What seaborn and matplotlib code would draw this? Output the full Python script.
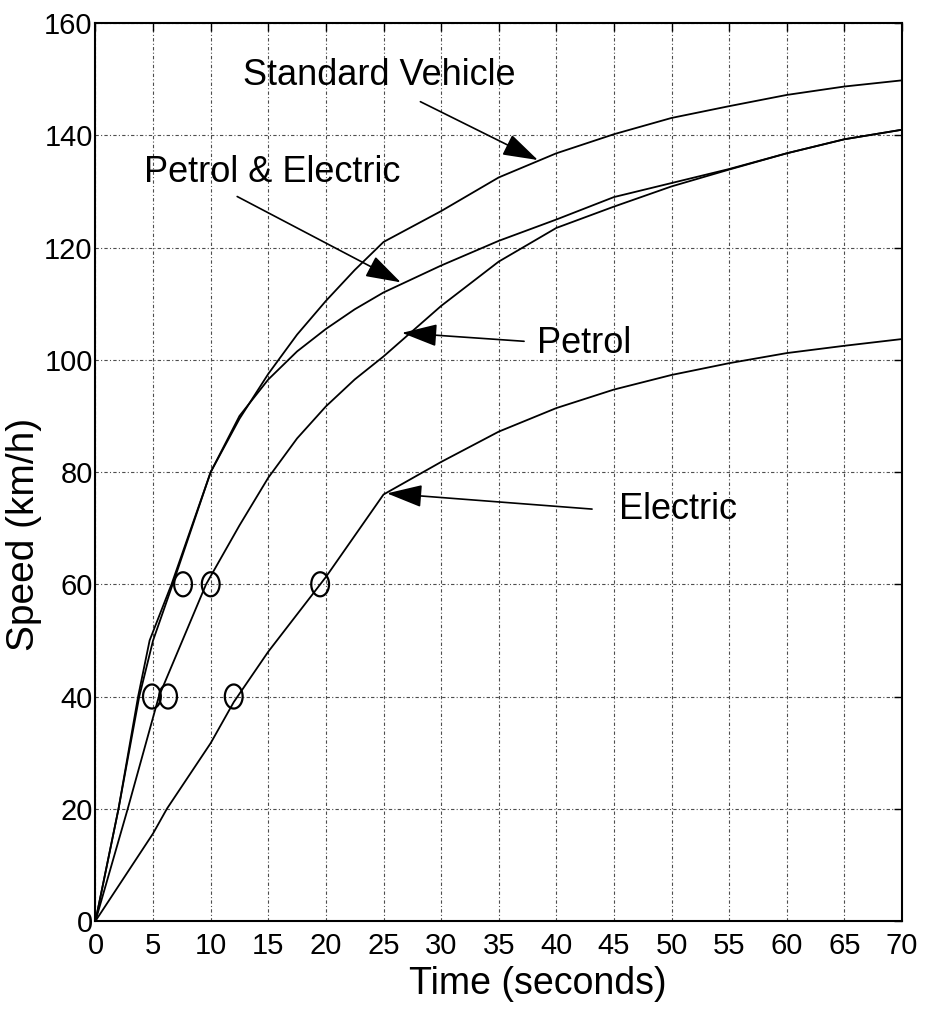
import numpy as np
import pandas as pd
import matplotlib
matplotlib.use("Agg")
import matplotlib.pyplot as plt
import seaborn as sns
from matplotlib.path import Path

# ---------------- data ----------------
series_names = ["Standard Vehicle", "Petrol & Electric", "Petrol", "Electric"]

std_time = [0, 2, 3.8, 5.0, 6.7, 10, 12.5, 15, 17.5, 20, 22.5, 25, 30, 35, 40, 45, 50, 55, 60, 65, 70]
std_speed = [0, 20, 40, 50, 60, 80, 89.5, 97.5, 104.5, 110.5, 116, 121, 126.5, 132.5, 136.8, 140.2, 143.1, 145.2, 147.2, 148.7, 149.8]

pe_time = [0, 2, 3.7, 4.7, 6.6, 10, 12.5, 15, 17.5, 20, 22.5, 25, 30, 35, 40, 45, 50, 55, 60, 65, 70]
pe_speed = [0, 20, 40, 50, 60, 80, 90, 96.5, 101.5, 105.5, 109, 112, 116.8, 121.2, 125, 129, 131.5, 134, 136.8, 139.3, 141]

petrol_time = [0, 2.8, 5.5, 9.6, 12.5, 15, 17.5, 20, 22.5, 25, 30, 35, 40, 45, 50, 55, 60, 65, 70]
petrol_speed = [0, 20, 40, 60, 70.5, 79, 86, 91.7, 96.5, 100.6, 109.6, 117.5, 123.5, 127.3, 130.9, 133.9, 136.8, 139.3, 141]

elec_time = [0, 5, 6.2, 10, 12, 15, 20, 25, 30, 35, 40, 45, 50, 55, 60, 65, 70]
elec_speed = [0, 15.6, 20, 31.7, 39, 48, 61.3, 76, 81.8, 87.2, 91.4, 94.7, 97.3, 99.4, 101.2, 102.5, 103.7]

circle_time = [4.9, 6.3, 12.0, 7.6, 10.0, 19.5]
circle_speed = [40, 40, 40, 60, 60, 60]

x_ticks = list(range(0, 71, 5))
y_ticks = list(range(0, 161, 20))
x_label = "Time (seconds)"
y_label = "Speed (km/h)"

# ---------------- build table ----------------
frames = []
for name, t, v in zip(series_names,
                      [std_time, pe_time, petrol_time, elec_time],
                      [std_speed, pe_speed, petrol_speed, elec_speed]):
    frames.append(pd.DataFrame({"time": t, "speed": v, "series": name}))
df = pd.concat(frames, ignore_index=True)

# ---------------- style ----------------
sns.set_style("white")
plt.rcParams["font.family"] = ["Liberation Sans", "DejaVu Sans"]

fig = plt.figure(figsize=(9.27, 10.18), dpi=100)
ax = fig.add_axes([0.103, 0.0953, 0.870, 0.882])

sns.lineplot(data=df, x="time", y="speed", hue="series",
             palette={n: "black" for n in series_names},
             legend=False, linewidth=1.3, errorbar=None, sort=False,
             ax=ax, zorder=3)

# ellipse-shaped open circles
th = np.linspace(0, 2 * np.pi, 64)
ellipse = Path(np.column_stack([0.37 * np.cos(th), 0.5 * np.sin(th)]), closed=True)
sns.scatterplot(x=circle_time, y=circle_speed, marker=ellipse, s=300,
                color="black", facecolor="none", edgecolor="black",
                linewidth=1.6, ax=ax, zorder=4)

ax.set_xlim(0, 70)
ax.set_ylim(0, 160)
ax.set_xticks(x_ticks)
ax.set_yticks(y_ticks)
ax.grid(True, color="0.3", linestyle=(0, (3, 2, 1, 2)), linewidth=0.8)
ax.set_axisbelow(True)

for sp in ax.spines.values():
    sp.set_visible(True)
    sp.set_color("black")
    sp.set_linewidth(1.5)

ax.tick_params(axis="both", direction="in", length=6, width=1, colors="black",
               labelsize=21, top=True, right=True)
ax.tick_params(axis="y", pad=2)
ax.tick_params(axis="x", pad=8)

ax.set_xlabel(x_label, fontsize=27, color="black")
ax.set_ylabel(y_label, fontsize=28, color="black")
ax.xaxis.set_label_coords(0.549, -0.050)
ax.yaxis.set_label_coords(-0.066, 0.43)

# ---------------- annotations ----------------
labels = [
    ("Standard Vehicle", (24.65, 150.6), (28.2, 146.0), (38.4, 135.6)),
    ("Petrol & Electric", (15.3, 133.3), (12.3, 129.1), (26.5, 113.8)),
    ("Petrol", (42.4, 102.9), (37.2, 103.3), (26.6, 104.8)),
    ("Electric", (50.6, 73.4), (43.1, 73.4), (25.3, 76.2)),
]
for text, pos, tail, tip in labels:
    ax.text(pos[0], pos[1], text, ha="center", va="center", fontsize=26,
            color="black", zorder=5)
    ax.annotate("", xy=tip, xytext=tail,
                arrowprops=dict(arrowstyle="-|>,head_length=1.1,head_width=0.35",
                                color="black", lw=1.2, mutation_scale=20,
                                shrinkA=0, shrinkB=0),
                zorder=5)

fig.savefig("out.png", dpi=100)
